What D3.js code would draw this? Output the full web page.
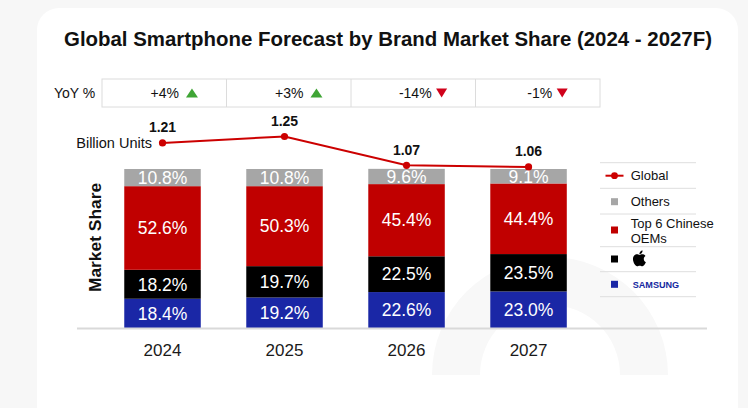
<!DOCTYPE html>
<html><head><meta charset="utf-8">
<script src="https://cdn.jsdelivr.net/npm/d3@7"></script>
<style>
html,body{margin:0;padding:0;background:#f7f7f7;}
svg{display:block;font-family:"Liberation Sans",Arial,sans-serif;}
</style></head>
<body>
<svg id="c" width="748" height="408"></svg>
<script>
const years = ["2024","2025","2026","2027"];
const samsung = [18.4, 19.2, 22.6, 23.0];
const apple = [18.2, 19.7, 22.5, 23.5];
const chinese = [52.6, 50.3, 45.4, 44.4];
const others = [10.8, 10.8, 9.6, 9.1];
const globalUnits = [1.21, 1.25, 1.07, 1.06];
const yoyValues = ["+4%", "+3%", "-14%", "-1%"];
const yoyUp = [true, true, false, false];
const seriesKeys = ["samsung", "apple", "chinese", "others"];
const seriesColors = {samsung:"#1a27a6", apple:"#000000", chinese:"#c00000", others:"#a6a6a6"};

const svg = d3.select("#c");

// card
svg.append("rect").attr("x",37).attr("y",8).attr("width",701).attr("height",430).attr("rx",22).attr("fill","#ffffff");

// faint watermark (upper half only, ends at y=375)
const wm = svg.append("g").attr("transform","translate(550,375)");
wm.append("path")
  .attr("d", d3.arc().innerRadius(70).outerRadius(118).startAngle(-Math.PI*0.5).endAngle(Math.PI*0.5)())
  .attr("fill","#f8f8f8");

// title
svg.append("text").attr("x",64).attr("y",46).attr("font-size",20.5).attr("font-weight","bold")
  .attr("fill","#111").attr("textLength",648).attr("lengthAdjust","spacingAndGlyphs")
  .text("Global Smartphone Forecast by Brand Market Share (2024 - 2027F)");

// scales
const x = d3.scaleBand().domain(years).range([78.75, 612.3]).padding(0.373);
const y = d3.scaleLinear().domain([0,100]).range([328,169]);
const yLine = d3.scaleLinear().domain([1.0,1.3]).range([176.5,128.5]);
const xTable = d3.scaleBand().domain(years).range([102,600]);

// YoY table
const tbl = svg.append("g");
tbl.append("rect").attr("x",xTable.range()[0]).attr("y",79).attr("width",xTable.range()[1]-xTable.range()[0]).attr("height",28)
  .attr("fill","#fff").attr("stroke","#dcdcdc").attr("stroke-width",1);
years.slice(1).forEach(yr => {
  tbl.append("line").attr("x1",xTable(yr)).attr("x2",xTable(yr)).attr("y1",79).attr("y2",107).attr("stroke","#dcdcdc");
});
svg.append("text").attr("x",54).attr("y",93).attr("dy","0.35em").attr("font-size",14).attr("fill","#111").text("YoY %");
years.forEach((yr,i) => {
  const cx = xTable(yr) + xTable.bandwidth()/2 + 10;
  const t = tbl.append("text").attr("font-size",14).attr("fill","#111").attr("y",93).attr("dy","0.35em").text(yoyValues[i]);
  const w = t.node().getComputedTextLength();
  const gap = yoyUp[i] ? 7 : 4;
  const triW = 12;
  const total = w + gap + triW;
  const x0 = cx - total/2;
  t.attr("x", x0);
  const tx = x0 + w + gap + triW/2;
  const tri = yoyUp[i]
    ? `M${tx-6},${97.5} L${tx+6},${97.5} L${tx},${88.5} Z`
    : `M${tx-5.5},${88.5} L${tx+5.5},${88.5} L${tx},${97.5} Z`;
  tbl.append("path").attr("d",tri).attr("fill", yoyUp[i] ? "#3fa535" : "#d0021b");
});

// stacked bars
const rows = years.map((yr,i) => ({year:yr, samsung:samsung[i], apple:apple[i], chinese:chinese[i], others:others[i]}));
const stack = d3.stack().keys(seriesKeys)(rows);
const bars = svg.append("g");
stack.forEach(layer => {
  layer.forEach(d => {
    bars.append("rect").attr("x", x(d.data.year)).attr("width", x.bandwidth())
      .attr("y", y(d[1])).attr("height", y(d[0]) - y(d[1])).attr("fill", seriesColors[layer.key]);
    bars.append("text").attr("x", x(d.data.year) + x.bandwidth()/2).attr("y", (y(d[0])+y(d[1]))/2)
      .attr("dy","0.36em").attr("text-anchor","middle").attr("font-size",17.5).attr("fill","#fff")
      .text(d.data[layer.key].toFixed(1) + "%");
  });
});

// baseline
svg.append("line").attr("x1",77).attr("x2",707).attr("y1",328.5).attr("y2",328.5).attr("stroke","#d9d9d9").attr("stroke-width",2);

// x axis labels
const xAxis = d3.axisBottom(x).tickSize(0).tickPadding(0);
const ax = svg.append("g").attr("transform","translate(0,344)").call(xAxis);
ax.select(".domain").remove();
ax.selectAll("text").attr("font-size",17).attr("fill","#1a1a1a").attr("font-family","Liberation Sans, Arial, sans-serif").attr("dy","0.71em");

// y label
svg.append("text").attr("transform","translate(101,237.5) rotate(-90)").attr("text-anchor","middle")
  .attr("font-size",17.4).attr("font-weight","bold").attr("fill","#111").text("Market Share");

// global line
const lineGen = d3.line().x((d,i) => x(years[i]) + x.bandwidth()/2).y(d => yLine(d));
svg.append("path").attr("d", lineGen(globalUnits)).attr("fill","none").attr("stroke","#cc0000").attr("stroke-width",2);
globalUnits.forEach((v,i) => {
  const cx = x(years[i]) + x.bandwidth()/2;
  svg.append("circle").attr("cx",cx).attr("cy",yLine(v)).attr("r",3.6).attr("fill","#cc0000");
  svg.append("text").attr("x",cx).attr("y",yLine(v)-10.5).attr("text-anchor","middle")
    .attr("font-size",14).attr("font-weight","bold").attr("fill","#111").text(v.toFixed(2));
});
svg.append("text").attr("x", x(years[0]) + x.bandwidth()/2 - 10.5).attr("y", yLine(globalUnits[0])).attr("dy","0.35em")
  .attr("text-anchor","end").attr("font-size",14.5).attr("fill","#111").text("Billion Units");

// legend
const lg = svg.append("g");
[162.7,188.3,214,246.7,271.7,296.7].forEach(yy => {
  lg.append("line").attr("x1",600).attr("x2",696).attr("y1",yy).attr("y2",yy).attr("stroke","#dedede").attr("stroke-width",1);
});
// Global
lg.append("line").attr("x1",605.5).attr("x2",623.5).attr("y1",175.7).attr("y2",175.7).attr("stroke","#cc0000").attr("stroke-width",2);
lg.append("circle").attr("cx",614.5).attr("cy",175.7).attr("r",3.4).attr("fill","#cc0000");
lg.append("text").attr("x",630.7).attr("y",175.7).attr("dy","0.35em").attr("font-size",13).attr("fill","#111").text("Global");
// Others
lg.append("rect").attr("x",611).attr("y",198.2).attr("width",7).attr("height",7).attr("fill",seriesColors.others);
lg.append("text").attr("x",630.7).attr("y",201.7).attr("dy","0.35em").attr("font-size",13).attr("fill","#111").text("Others");
// Chinese
lg.append("rect").attr("x",611).attr("y",226.5).attr("width",7).attr("height",7).attr("fill",seriesColors.chinese);
lg.append("text").attr("x",630.7).attr("y",223.3).attr("dy","0.35em").attr("font-size",13).attr("fill","#111").text("Top 6 Chinese");
lg.append("text").attr("x",630.7).attr("y",238.6).attr("dy","0.35em").attr("font-size",13).attr("fill","#111").text("OEMs");
// Apple
lg.append("rect").attr("x",611).attr("y",255.5).attr("width",7).attr("height",7).attr("fill",seriesColors.apple);
lg.append("path").attr("transform","translate(631.5,250.5) scale(0.66)").attr("fill","#000")
  .attr("d","M12.152 6.896c-.948 0-2.415-1.078-3.960-1.040-2.040.027-3.910 1.183-4.961 3.014-2.117 3.675-.546 9.103 1.519 12.090 1.013 1.454 2.208 3.090 3.792 3.039 1.520-.065 2.090-.987 3.935-.987 1.831 0 2.350.987 3.960.948 1.637-.026 2.676-1.480 3.676-2.948 1.156-1.688 1.636-3.325 1.662-3.415-.039-.013-3.182-1.221-3.220-4.857-.026-3.040 2.480-4.494 2.597-4.559-1.429-2.090-3.623-2.324-4.390-2.376-2-.156-3.675 1.090-4.610 1.090zM15.530 3.830c.843-1.012 1.400-2.427 1.245-3.830-1.207.052-2.662.805-3.532 1.818-.780.896-1.454 2.338-1.273 3.714 1.338.104 2.715-.688 3.559-1.701");
// Samsung
lg.append("rect").attr("x",611).attr("y",280.8).attr("width",7).attr("height",7).attr("fill",seriesColors.samsung);
lg.append("text").attr("x",632.7).attr("y",284.3).attr("dy","0.36em").attr("font-size",9).attr("font-weight","bold")
  .attr("fill","#1428a0").attr("textLength",46.5).attr("lengthAdjust","spacingAndGlyphs").text("SAMSUNG");
</script>
</body></html>
